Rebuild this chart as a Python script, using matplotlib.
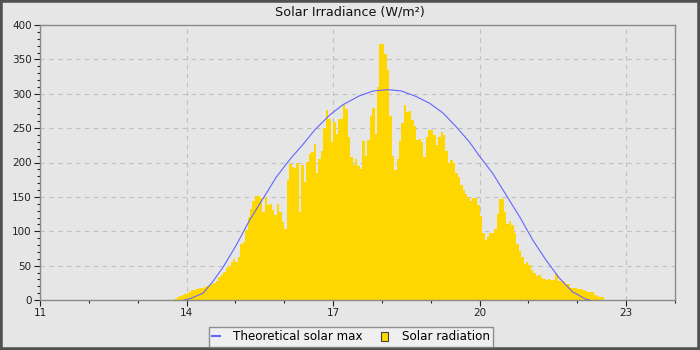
import numpy as np
import matplotlib
matplotlib.use("Agg")
import matplotlib.pyplot as plt
from matplotlib.lines import Line2D
from matplotlib.patches import Patch, Rectangle
from matplotlib.ticker import MultipleLocator

# measured solar radiation, one value every 3 minutes starting at 13:45
rad_start = 13.75
rad_step = 0.05
radiation = [
    2, 4, 6, 8, 9, 10, 12, 14, 15, 16,
    17, 18, 19, 21, 22, 24, 25, 27, 33, 37,
    41, 46, 50, 55, 59, 56, 62, 81, 85, 102,
    121, 133, 144, 152, 151, 149, 128, 150, 138, 139,
    131, 123, 140, 128, 113, 104, 175, 198, 193, 192,
    200, 128, 196, 172, 201, 213, 216, 227, 185, 205,
    217, 250, 277, 264, 230, 259, 242, 263, 263, 285,
    278, 237, 208, 197, 205, 195, 190, 232, 210, 233,
    268, 280, 242, 310, 372, 372, 358, 335, 268, 210,
    189, 205, 232, 258, 283, 273, 275, 262, 253, 233,
    234, 230, 208, 237, 248, 247, 240, 225, 237, 245,
    240, 217, 200, 203, 200, 185, 179, 167, 160, 154,
    150, 144, 149, 148, 138, 122, 98, 87, 91, 97,
    97, 103, 125, 147, 147, 128, 111, 115, 109, 98,
    81, 72, 62, 52, 55, 51, 43, 39, 35, 36,
    32, 31, 29, 30, 29, 29, 38, 28, 27, 27,
    24, 23, 18, 17, 17, 16, 16, 14, 13, 12,
    12, 11, 8, 6, 5, 5,
]

# theoretical clear-sky maximum
theo_hours = [13.95, 14.07, 14.34, 14.54, 14.75, 15.02, 15.29, 15.57, 15.84,
              16.11, 16.38, 16.62, 16.93, 17.2, 17.54, 17.82, 18.12, 18.4,
              18.7, 18.98, 19.25, 19.52, 19.79, 20.0, 20.27, 20.54, 20.82,
              21.09, 21.36, 21.63, 21.9, 22.18, 22.25]
theo_values = [0, 2, 10, 27, 48, 80, 116, 148, 179,
               204, 226, 247, 269, 284, 297, 304, 306, 304,
               296, 286, 272, 252, 230, 209, 184, 153, 121,
               87, 58, 32, 12, 1, 0]

x_ticks = [11, 14, 17, 20, 23]
bg = "#e6e6e6"
gold = "#ffd700"
blue = "#6464ff"


def main():
    fig = plt.figure(figsize=(7, 3.5), dpi=100, facecolor=bg)
    ax = fig.add_axes([40 / 700, 50 / 350, 635 / 700, 275 / 350])
    ax.set_facecolor(bg)

    t = rad_start + rad_step * np.arange(len(radiation) + 1)
    vals = np.append(radiation, radiation[-1])
    ax.fill_between(t, 0, vals, step="post", color=gold, linewidth=0, zorder=2)
    ax.plot(theo_hours, theo_values, color=blue, linewidth=0.8, zorder=3)

    ax.set_xlim(11, 24)
    ax.set_ylim(0, 400)
    ax.set_xticks(x_ticks)
    ax.xaxis.set_minor_locator(MultipleLocator(1))
    ax.yaxis.set_major_locator(MultipleLocator(50))
    ax.yaxis.set_minor_locator(MultipleLocator(10))
    ax.tick_params(which="major", direction="out", length=4, width=0.8,
                   labelsize=7.5, colors="#222222", pad=2)
    ax.tick_params(which="minor", direction="out", length=2, width=0.8,
                   colors="#222222")
    ax.grid(True, which="major", color="#c0c0c0", linestyle=(0, (4, 4)),
            linewidth=0.8, zorder=1)
    ax.set_axisbelow(True)
    for side in ax.spines.values():
        side.set_color("#8a8a8a")
        side.set_linewidth(1)

    fig.text(0.5, 1 - 12 / 350, "Solar Irradiance (W/m²)", ha="center",
             va="center", fontsize=9.2, color="#111111")

    handles = [
        Line2D([], [], color=blue, linewidth=1.5),
        Patch(facecolor=gold, edgecolor="#444444", linewidth=0.8),
    ]
    leg = fig.legend(handles, ["Theoretical solar max", "Solar radiation"],
                     loc="center", bbox_to_anchor=(351 / 700, 13 / 350), ncol=2,
                     fontsize=8.6, frameon=True, fancybox=False,
                     handlelength=0.6, handleheight=0.8, handletextpad=1.1,
                     columnspacing=1.6, borderpad=0.3, borderaxespad=0)
    leg.get_frame().set_facecolor("#f2f2f2")
    leg.get_frame().set_edgecolor("#777777")
    leg.get_frame().set_linewidth(1)

    fig.patches.append(Rectangle((0, 0), 1, 1, transform=fig.transFigure,
                                 fill=False, edgecolor="#505050", linewidth=4))

    fig.savefig("out.png", dpi=100, facecolor=bg)
    plt.close(fig)


if __name__ == "__main__":
    main()
